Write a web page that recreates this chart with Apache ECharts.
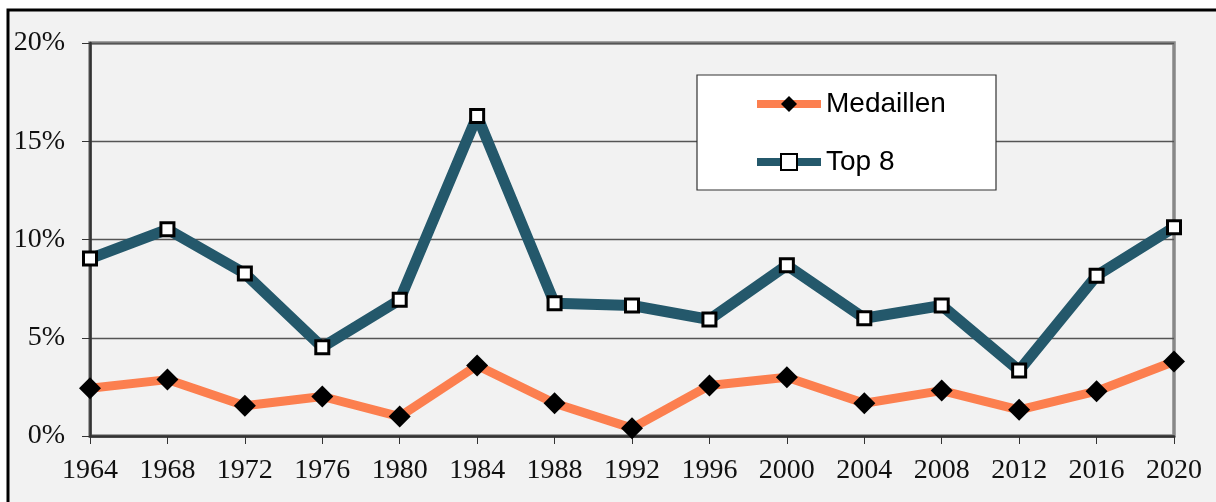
<!DOCTYPE html>
<html>
<head>
<meta charset="utf-8">
<script src="https://cdn.jsdelivr.net/npm/echarts@6/dist/echarts.min.js"></script>
<style>
html, body { margin: 0; padding: 0; background: #fff; }
#chart { width: 1216px; height: 502px; }
</style>
</head>
<body>
<div id="chart"></div>
<script>
// jaren en percentages
var years = ['1964', '1968', '1972', '1976', '1980', '1984', '1988', '1992', '1996', '2000', '2004', '2008', '2012', '2016', '2020'];
var medaillen = [2.43, 2.87, 1.54, 2.01, 0.99, 3.59, 1.67, 0.40, 2.57, 2.99, 1.67, 2.31, 1.33, 2.28, 3.79];
var top8 = [9.03, 10.52, 8.27, 4.52, 6.93, 16.29, 6.75, 6.64, 5.93, 8.69, 5.99, 6.64, 3.33, 8.16, 10.62];

var myChart = echarts.init(document.getElementById('chart'));
var option = {
	animation: false,
	backgroundColor: '#fff',
	graphic: [{
		type: 'rect',
		z: -10,
		shape: { x: 8, y: 10, width: 1220, height: 510 },
		style: { fill: '#f2f2f2', stroke: '#000', lineWidth: 3 }
	}, {
		type: 'rect',
		z: 5,
		shape: { x: 697, y: 75, width: 299, height: 115 },
		style: { fill: '#fff', stroke: '#333', lineWidth: 1.2 }
	}],
	grid: {
		left: 90,
		top: 43,
		right: 42,
		bottom: 66,
		show: true,
		borderColor: '#888',
		borderWidth: 3.5,
		backgroundColor: 'transparent'
	},
	legend: {
		orient: 'vertical',
		left: 753,
		top: 89,
		padding: 0,
		z: 10,
		itemWidth: 64,
		itemHeight: 20,
		itemGap: 28,
		lineStyle: { width: 8 },
		textStyle: {
			fontFamily: 'Liberation Sans',
			fontSize: 28,
			lineHeight: 30,
			color: '#000'
		},
		data: ['Medaillen', 'Top 8']
	},
	xAxis: {
		type: 'category',
		boundaryGap: false,
		data: years,
		axisLine: { lineStyle: { color: '#333', width: 2.5 } },
		axisTick: { length: 8, lineStyle: { color: '#333', width: 1 } },
		axisLabel: {
			margin: 21,
			fontFamily: 'Liberation Serif',
			fontSize: 28,
			color: '#111'
		}
	},
	yAxis: {
		type: 'value',
		min: 0,
		max: 20,
		interval: 5,
		axisLine: { show: true, lineStyle: { color: '#333', width: 2.5 } },
		axisTick: { show: true, length: 8, lineStyle: { color: '#333', width: 1 } },
		splitLine: { lineStyle: { color: '#555', width: 1.3 } },
		axisLabel: {
			margin: 25,
			formatter: '{value}%',
			fontFamily: 'Liberation Serif',
			fontSize: 28,
			color: '#111'
		}
	},
	series: [{
		name: 'Medaillen',
		type: 'line',
		data: medaillen,
		symbol: 'diamond',
		symbolSize: 22,
		showAllSymbol: true,
		lineStyle: { color: '#fc7f4f', width: 9 },
		itemStyle: { color: '#000', borderColor: '#000', borderWidth: 0 },
		z: 3
	}, {
		name: 'Top 8',
		type: 'line',
		data: top8,
		symbol: 'rect',
		symbolSize: 13,
		showAllSymbol: true,
		lineStyle: { color: '#24586b', width: 11 },
		itemStyle: { color: '#fff', borderColor: '#000', borderWidth: 3 },
		z: 3
	}]
};
myChart.setOption(option);
window.onresize = function() {
	myChart.resize();
}
</script>
</body>
</html>
